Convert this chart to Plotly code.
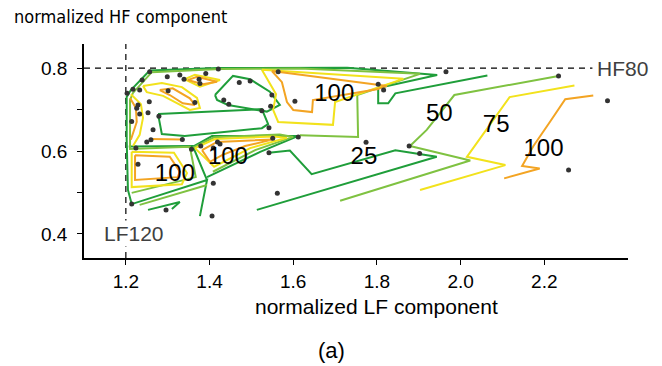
import plotly.graph_objects as go

# ---- scatter sample points (normalized LF, normalized HF) ----
pts_lf = [1.257, 1.299, 1.329, 1.339, 1.391, 1.421, 1.375, 1.377, 1.471, 1.497, 1.564, 1.239,
          1.217, 1.233, 1.203, 1.301, 1.365, 1.256, 1.229, 1.226, 1.233, 1.253, 1.279, 1.214,
          1.434, 1.446, 1.549, 1.525, 1.546, 1.604, 1.265, 1.542, 1.551, 1.612, 1.335, 1.260,
          1.250, 1.379, 1.419, 1.425, 1.409, 1.357, 1.224, 1.542, 1.229, 1.409, 1.562, 1.214,
          1.296, 1.406, 1.965, 2.234, 2.351, 1.803, 1.816, 1.774, 1.877, 1.902, 2.258]
pts_hf = [0.791, 0.779, 0.783, 0.773, 0.787, 0.798, 0.773, 0.763, 0.765, 0.769, 0.791, 0.771,
          0.749, 0.747, 0.739, 0.745, 0.717, 0.719, 0.711, 0.703, 0.689, 0.692, 0.684, 0.671,
          0.723, 0.713, 0.735, 0.697, 0.708, 0.720, 0.651, 0.656, 0.631, 0.634, 0.628, 0.627,
          0.622, 0.612, 0.622, 0.617, 0.607, 0.604, 0.607, 0.596, 0.568, 0.522, 0.498, 0.472,
          0.458, 0.443, 0.791, 0.781, 0.721, 0.761, 0.747, 0.621, 0.612, 0.594, 0.554]

# ---- contour polylines, per level: list of (lf values, hf values) ----
level_25 = [
    ([2.064, 1.920, 1.844, 1.827, 1.803, 1.803, 1.944, 1.729, 1.420, 1.257, 1.236, 1.212, 1.202,
      1.202, 1.205, 1.214, 1.394, 1.377],
     [0.782, 0.755, 0.739, 0.715, 0.715, 0.752, 0.783, 0.801, 0.800, 0.794, 0.771, 0.747, 0.730,
      0.627, 0.506, 0.472, 0.530, 0.443]),
    ([1.413, 1.456, 1.497, 1.544, 1.568, 1.537, 1.444, 1.418, 1.413],
     [0.735, 0.781, 0.773, 0.743, 0.711, 0.695, 0.711, 0.723, 0.735]),
    ([1.277, 1.377, 1.525, 1.540, 1.525, 1.341, 1.286, 1.277],
     [0.689, 0.694, 0.701, 0.665, 0.655, 0.636, 0.641, 0.689]),
    ([1.207, 1.360, 1.394], [0.611, 0.612, 0.530]),
    ([1.351, 1.406, 1.611, 1.521, 1.394], [0.605, 0.636, 0.636, 0.598, 0.537]),
    ([1.542, 1.592, 1.644, 1.844, 1.943, 1.513], [0.596, 0.601, 0.544, 0.602, 0.586, 0.458]),
    ([1.253, 1.329, 1.310], [0.458, 0.477, 0.460]),
]
level_50 = [
    ([1.712, 2.023, 1.879, 1.919, 1.985, 2.234], [0.480, 0.577, 0.612, 0.651, 0.735, 0.781]),
    ([1.616, 1.755, 1.753, 1.903, 1.616, 1.425, 1.262, 1.241, 1.217, 1.210, 1.210, 1.353, 1.367, 1.214],
     [0.638, 0.634, 0.735, 0.786, 0.799, 0.798, 0.790, 0.766, 0.740, 0.723, 0.605, 0.610, 0.537, 0.499]),
    ([1.358, 1.411, 1.568, 1.600, 1.509, 1.408], [0.607, 0.633, 0.640, 0.634, 0.602, 0.550]),
    ([1.233, 1.394], [0.470, 0.518]),
]
level_75 = [
    ([1.903, 2.107, 2.015, 2.117, 2.272], [0.506, 0.566, 0.586, 0.730, 0.758]),
    ([1.525, 1.559, 1.552, 1.564, 1.695, 1.700, 1.863, 1.525],
     [0.796, 0.737, 0.699, 0.670, 0.663, 0.718, 0.774, 0.796]),
    ([1.241, 1.286, 1.334, 1.370, 1.377, 1.353, 1.289, 1.250, 1.241],
     [0.757, 0.764, 0.754, 0.728, 0.704, 0.699, 0.733, 0.742, 0.757]),
    ([1.341, 1.365, 1.425, 1.377, 1.341], [0.773, 0.784, 0.771, 0.755, 0.773]),
    ([1.212, 1.236, 1.241, 1.233, 1.217], [0.737, 0.713, 0.680, 0.639, 0.612]),
    ([1.214, 1.315, 1.346, 1.334, 1.214, 1.214], [0.598, 0.596, 0.547, 0.520, 0.513, 0.598]),
    ([1.365, 1.413, 1.552, 1.585, 1.497, 1.411, 1.365], [0.607, 0.629, 0.635, 0.632, 0.607, 0.562, 0.607]),
]
level_100 = [
    ([2.104, 2.189, 2.147, 2.174, 2.210, 2.250, 2.317], [0.534, 0.558, 0.564, 0.612, 0.665, 0.725, 0.734]),
    ([1.549, 1.573, 1.585, 1.600, 1.645, 1.647, 1.800, 1.824, 1.549],
     [0.793, 0.766, 0.718, 0.699, 0.694, 0.723, 0.749, 0.757, 0.793]),
    ([1.281, 1.312, 1.353, 1.365, 1.336, 1.305, 1.281], [0.747, 0.751, 0.727, 0.711, 0.715, 0.735, 0.747]),
    ([1.348, 1.370, 1.418, 1.384, 1.348], [0.771, 0.779, 0.767, 0.761, 0.771]),
    ([1.210, 1.224, 1.226, 1.212], [0.728, 0.704, 0.670, 0.627]),
    ([1.222, 1.305, 1.329, 1.324, 1.222, 1.222], [0.590, 0.586, 0.550, 0.537, 0.530, 0.590]),
    ([1.382, 1.418, 1.552, 1.485, 1.430, 1.401, 1.382], [0.602, 0.622, 0.628, 0.612, 0.590, 0.574, 0.602]),
    ([1.257, 1.334], [0.629, 0.628]),
]

levels = [("25", level_25, "#1f9e3a"), ("50", level_50, "#7fc241"),
          ("75", level_75, "#f2e21c"), ("100", level_100, "#f3a423")]

# contour labels
label_text = ["100", "50", "75", "100", "25", "100", "100"]
label_lf = [1.698, 1.949, 2.085, 2.198, 1.769, 1.444, 1.317]
label_hf = [0.735, 0.687, 0.660, 0.602, 0.583, 0.583, 0.542]

x_ticks = [1.2, 1.4, 1.6, 1.8, 2.0, 2.2]
x_ticktext = ["1.2", "1.4", "1.6", "1.8", "2.0", "2.2"]
y_ticks = [0.4, 0.5, 0.6, 0.7, 0.8]
y_ticktext = ["0.4", "", "0.6", "", "0.8"]

LF_REF = 1.2
HF_REF = 0.8
X_RANGE = [1.1, 2.4]
Y_RANGE = [0.342, 0.858]

FONT = "Liberation Sans, Arial, sans-serif"
NARROW = "Liberation Sans Narrow, Arial Narrow, DejaVu Sans Condensed, Liberation Sans, sans-serif"

fig = go.Figure()

# reference dashed lines
fig.add_trace(go.Scatter(x=[LF_REF, LF_REF], y=Y_RANGE, mode="lines",
                         line=dict(color="black", width=1.2, dash="6px,5px"),
                         hoverinfo="skip", showlegend=False))
fig.add_trace(go.Scatter(x=[X_RANGE[0], 2.315], y=[HF_REF, HF_REF], mode="lines",
                         line=dict(color="black", width=1.2, dash="6px,5px"),
                         hoverinfo="skip", showlegend=False))

for name, paths, color in levels:
    xs, ys = [], []
    for px, py in paths:
        xs += list(px) + [None]
        ys += list(py) + [None]
    fig.add_trace(go.Scatter(x=xs, y=ys, mode="lines", name=name,
                             line=dict(color=color, width=2), connectgaps=False,
                             showlegend=False))

fig.add_trace(go.Scatter(x=pts_lf, y=pts_hf, mode="markers",
                         marker=dict(color="#333333", size=5),
                         showlegend=False))

fig.add_trace(go.Scatter(x=label_lf, y=label_hf, mode="text", text=label_text,
                         textfont=dict(family=FONT, size=24, color="black"),
                         showlegend=False))

fig.update_layout(
    width=662, height=366,
    margin=dict(l=84, r=34, t=44, b=108),
    paper_bgcolor="white", plot_bgcolor="white",
    font=dict(family=FONT, size=19, color="black"),
    xaxis=dict(range=X_RANGE, tickvals=x_ticks, ticktext=x_ticktext,
               showline=True, linecolor="black", linewidth=1.5,
               ticks="outside", ticklen=5, tickwidth=1.3, tickcolor="black",
               showgrid=False, zeroline=False, tickfont=dict(size=19)),
    yaxis=dict(range=Y_RANGE, tickvals=y_ticks, ticktext=y_ticktext,
               showline=True, linecolor="black", linewidth=1.5,
               ticks="outside", ticklen=5, tickwidth=1.3, tickcolor="black",
               ticklabelstandoff=6,
               showgrid=False, zeroline=False, tickfont=dict(size=19)),
    annotations=[
        dict(text="normalized HF component", xref="paper", yref="paper",
             x=-0.133, y=1.0, xanchor="left", yanchor="bottom", yshift=15,
             showarrow=False, font=dict(family=NARROW, size=18)),
        dict(text="normalized LF component", xref="paper", yref="paper",
             x=0.537, y=0, xanchor="center", yanchor="middle", yshift=-48,
             showarrow=False, font=dict(size=21)),
        dict(text="(a)", xref="paper", yref="paper",
             x=0.455, y=0, xanchor="center", yanchor="middle", yshift=-92,
             showarrow=False, font=dict(size=22)),
        dict(text="HF80", x=2.315, y=HF_REF, xanchor="left", yanchor="middle",
             xshift=3, showarrow=False, font=dict(size=21, color="#404040")),
        dict(text="LF120", x=LF_REF, y=0.4, xanchor="center", yanchor="middle",
             xshift=8, showarrow=False, bgcolor="white",
             font=dict(size=21, color="#404040")),
    ],
)

fig.write_html("out.html")
